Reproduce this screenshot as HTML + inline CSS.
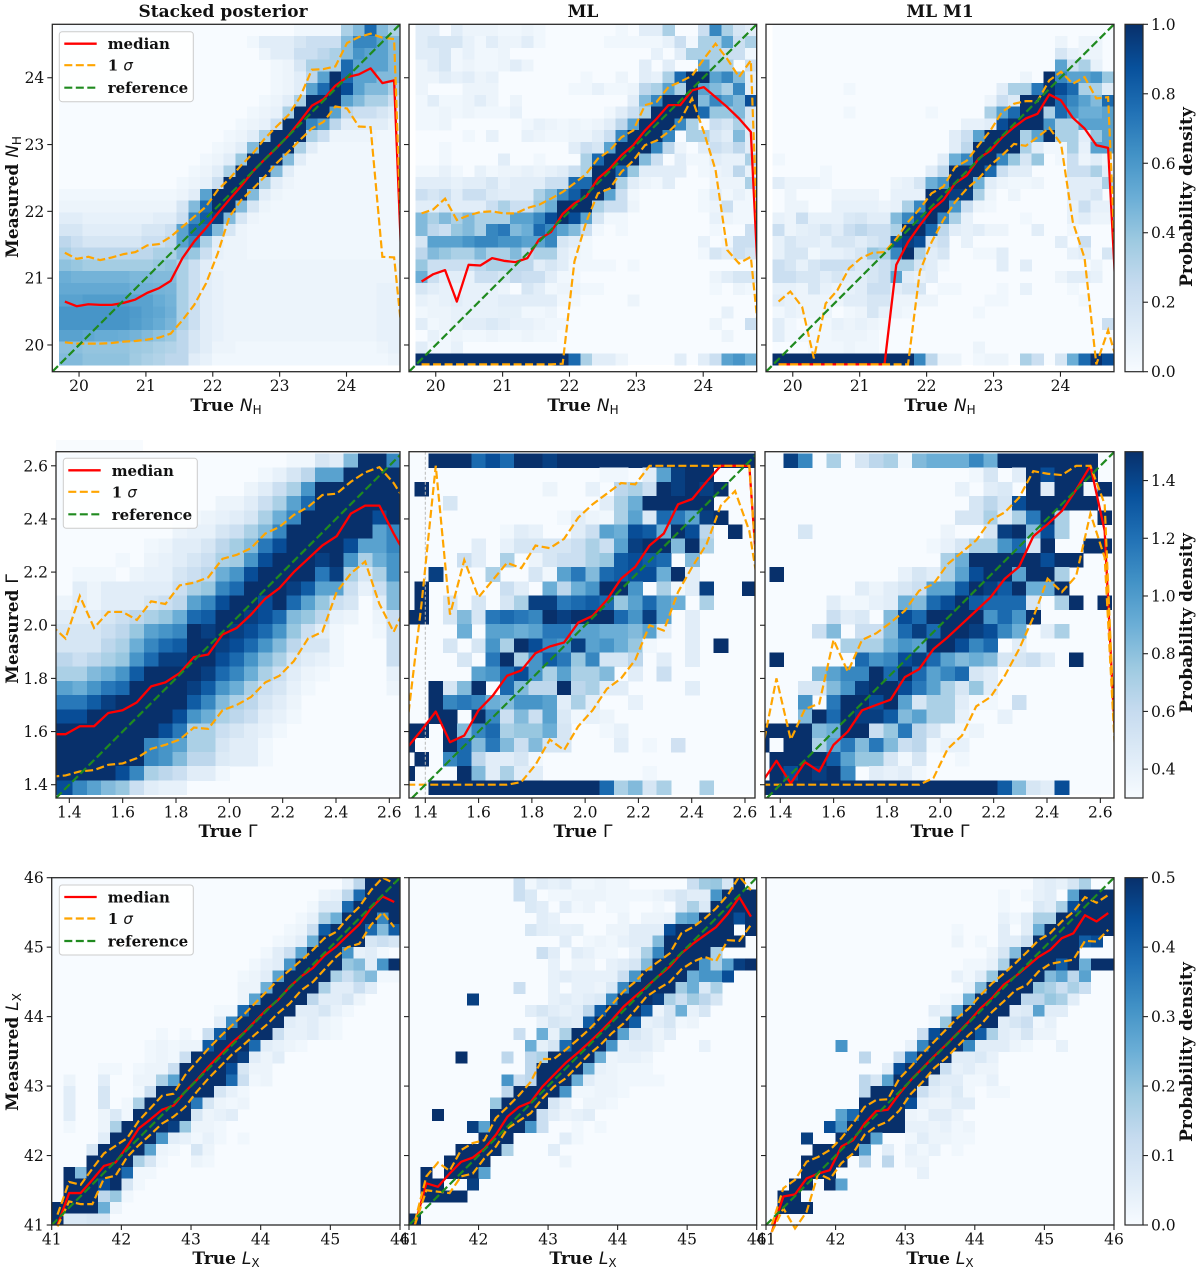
<!DOCTYPE html>
<html lang="en">
<head>
<meta charset="utf-8">
<title>Measured vs true parameters</title>
<style>
html,body{margin:0;padding:0;background:#fff;}
svg{display:block;filter:blur(.35px);}
text{font-family:"DejaVu Serif","Liberation Serif",serif;fill:#111;}
.tick{font-size:15.5px;}
.lab{font-size:17px;font-weight:bold;}
.ttl{font-size:17px;font-weight:bold;}
.leg{font-size:15px;font-weight:bold;}
.math{font-family:"DejaVu Sans","Liberation Sans",sans-serif;font-style:italic;font-weight:normal;}
.up{font-family:"DejaVu Sans","Liberation Sans",sans-serif;font-style:normal;font-weight:normal;}
.sub{font-family:"DejaVu Sans","Liberation Sans",sans-serif;font-style:normal;font-weight:normal;font-size:12px;}
</style>
</head>
<body>
<svg id="figure" xmlns="http://www.w3.org/2000/svg" width="1200" height="1269" viewBox="0 0 1200 1269">
<defs>
<linearGradient id="blues" x1="0" y1="1" x2="0" y2="0">
<stop offset="0" stop-color="#f7fbff"/><stop offset=".125" stop-color="#deebf7"/><stop offset=".25" stop-color="#c6dbef"/><stop offset=".375" stop-color="#9ecae1"/><stop offset=".5" stop-color="#6baed6"/><stop offset=".625" stop-color="#4292c6"/><stop offset=".75" stop-color="#2171b5"/><stop offset=".875" stop-color="#08519c"/><stop offset="1" stop-color="#08306b"/>
</linearGradient>
</defs>
<rect x="0" y="0" width="1200" height="1269" fill="#fff"/>
<rect x="56" y="440" width="87" height="12" fill="#f8fbfe"/>
<g id="plots"></g>
<text class="ttl" x="223" y="17" text-anchor="middle">Stacked posterior</text>
<text class="ttl" x="583" y="17" text-anchor="middle">ML</text>
<text class="ttl" x="940" y="17" text-anchor="middle">ML M1</text>
<text class="lab" transform="translate(18,197) rotate(-90)" text-anchor="middle">Measured <tspan class="math">N</tspan><tspan class="sub" dy="3">H</tspan></text>
<text class="lab" transform="translate(18,629) rotate(-90)" text-anchor="middle">Measured <tspan class="up">Γ</tspan></text>
<text class="lab" transform="translate(18,1052) rotate(-90)" text-anchor="middle">Measured <tspan class="math">L</tspan><tspan class="sub" dy="3">X</tspan></text>
<text class="lab" x="226" y="411" text-anchor="middle">True <tspan class="math">N</tspan><tspan class="sub" dy="3">H</tspan></text>
<text class="lab" x="583" y="411" text-anchor="middle">True <tspan class="math">N</tspan><tspan class="sub" dy="3">H</tspan></text>
<text class="lab" x="940" y="411" text-anchor="middle">True <tspan class="math">N</tspan><tspan class="sub" dy="3">H</tspan></text>
<text class="lab" x="228" y="837" text-anchor="middle">True <tspan class="up">Γ</tspan></text>
<text class="lab" x="583" y="837" text-anchor="middle">True <tspan class="up">Γ</tspan></text>
<text class="lab" x="940" y="837" text-anchor="middle">True <tspan class="up">Γ</tspan></text>
<text class="lab" x="226" y="1264" text-anchor="middle">True <tspan class="math">L</tspan><tspan class="sub" dy="3">X</tspan></text>
<text class="lab" x="583" y="1264" text-anchor="middle">True <tspan class="math">L</tspan><tspan class="sub" dy="3">X</tspan></text>
<text class="lab" x="940" y="1264" text-anchor="middle">True <tspan class="math">L</tspan><tspan class="sub" dy="3">X</tspan></text>
<text class="lab" transform="translate(1192,197) rotate(-90)" text-anchor="middle">Probability density</text>
<text class="lab" transform="translate(1192,623) rotate(-90)" text-anchor="middle">Probability density</text>
<text class="lab" transform="translate(1192,1052) rotate(-90)" text-anchor="middle">Probability density</text>
</svg>
<script>
/* tick labels */
const nhTicks=[20,21,22,23,24];
const gammaTicks=[1.4,1.6,1.8,2.0,2.2,2.4,2.6];
const lxTicks=[41,42,43,44,45,46];
const nhBarTicks=[0,0.2,0.4,0.6,0.8,1.0];
const gammaBarTicks=[0.4,0.6,0.8,1.0,1.2,1.4];
const lxBarTicks=[0,0.1,0.2,0.3,0.4,0.5];

/* heatmap cell levels, top row first; 0 = palest, 9 = darkest colour of the map; missing trailing cells are 0 */
const heatNhStacked=[
[0,0,0,0,0,0,0,0,0,0,0,0,0,0,0,0,0,0,0,0,.3,.3,.3,.3,3,4,7,4,3],
[0,0,0,0,0,0,0,0,0,0,0,0,0,0,0,0,.3,1,1,1,1.5,2,2,2,4,6,6,5,4],
[0,0,0,0,0,0,0,0,0,0,0,0,0,0,0,0,0,.5,1,1,2,2,2.5,3,4,5.5,5,5,4],
[0,0,0,0,0,0,0,0,0,0,0,0,0,0,0,0,0,0,.3,.5,1.5,3,3,3,7,5,5,5,4],
[0,0,0,0,0,0,0,0,0,0,0,0,0,0,0,0,0,0,.3,.5,1,2.5,5,9,7,5,5,4,4],
[0,0,0,0,0,0,0,0,0,0,0,0,0,0,0,0,0,0,.3,.5,1,5,7,9,8,5,4,4,3],
[0,0,0,0,0,0,0,0,0,0,0,0,0,0,0,0,0,.3,.5,1,3,9,9,9,5,4,3,3,2],
[0,0,0,0,0,0,0,0,0,0,0,0,0,0,0,0,.3,.5,.7,3,9,9,9,5,2.5,2,2,1.5,1],
[0,0,0,0,0,0,0,0,0,0,0,0,0,0,0,.3,.5,.7,2,9,9,6,5,2.5,1,1,1,1,.5],
[0,0,0,0,0,0,0,0,0,0,0,0,0,0,.3,.5,1,3,9,9,9,3,2,.5,.5,.5,.5,.3,.3],
[0,0,0,0,0,0,0,0,0,0,0,0,0,.3,.5,1,4,9,9,9,3,1,.3,.3,.3,.3,.3,.3,.3],
[0,0,0,0,0,0,0,0,0,0,0,0,.3,.5,1,3.5,9,9,9,4,1,.3,.3,.3,.3,.3,.3,.3,.3],
[0,0,0,0,0,0,0,0,0,0,0,.3,.5,1,3,9,9,9,4,1,.3,.3,.3,.3,.3,.3,.3,.3,.3],
[0,0,0,0,0,0,0,0,0,0,.3,.5,.7,2,9,9,9,3,1,.5,.3,.3,.3,.3,.3,.3,.3,.3,.3],
[.3,.3,.3,.3,.3,.3,.3,.3,.3,.3,.5,1,5,9,9,9,4,1,.5,.3,.3,.3,.3,.3,.3,.3,.3,.3,.3],
[.5,.5,.5,.5,.5,.5,.5,.5,.5,.5,1.5,4,7,9,9,4,1.5,.5,.3,.3,.3,.3,.3,.3,.3,.3,.3,.3,.3],
[1,1,.7,.7,.7,.7,.7,.7,1,1,2,6,7.5,8.5,4,1.5,.5,.3,.3,.3,.3,.3,.3,.3,.3,.3,.3,.3,.3],
[1.5,1.5,1,1,1,1,1,1.5,1.5,2,5,7,7,4,1.5,.5,.3,.3,.3,.3,.3,.3,.3,.3,.3,.3,.3,.3,.3],
[2.5,2,1.5,1.5,1.5,1.5,1.5,2,2,2.5,5,6,3,1,.5,.5,.3,.3,.3,.3,.3,.3,.3,.3,.3,.3,.3,.3,.3],
[3,2.5,2.5,2.5,2.5,2.5,2.5,2.5,3,3,4,3.5,2,.7,.5,.5,.3,.3,.3,.3,.3,.3,.3,.3,.3,.3,.3,.3,.3],
[3.7,3.5,3.2,3.2,3.2,3.2,3.2,3.2,3.5,3.7,3,2,1,.5,.5,.5,.5,.5,.5,.5,.5,.5,.5,.5,.5,.5,.5,.5,.5],
[4.5,4.3,4.3,4.3,4.3,4.3,4.1,4.1,4,4,3,2,1,.7,.5,.5,.5,.5,.5,.5,.5,.5,.5,.5,.5,.5,.5,.5,.5],
[4.7,4.7,4.7,4.7,4.7,4.7,4.4,4.4,4.3,4.2,3,2,1,.7,.5,.5,.5,.5,.5,.5,.5,.5,.5,.5,.5,.5,.5,.7,.7],
[5,5,5.2,5.2,5.2,5.2,5,5,4.6,4.3,3,2,1,.7,.5,.5,.5,.5,.5,.5,.5,.5,.5,.5,.5,.5,.5,.7,.7],
[5.5,5.5,5.5,5.5,5.5,5.5,5.3,5,4.8,4.4,3,2,1,.7,.5,.5,.5,.5,.5,.5,.5,.5,.5,.5,.5,.5,.5,.7,.7],
[5.5,5.5,5.5,5.5,5.5,5.5,5.2,4.9,4.6,4.2,3,2,1,.7,.5,.5,.5,.5,.5,.5,.5,.5,.5,.5,.5,.5,.5,.7,.7],
[5,5,4.8,4.6,4.6,4.5,4.3,4,3.7,3.4,2.5,1.5,1,.7,.5,.5,.5,.5,.5,.5,.5,.5,.5,.5,.5,.5,.5,.7,.7],
[3.8,3.8,3.6,3.6,3.6,3.6,3.4,3.3,3,2.8,2.5,1.5,1,.5,.5,.3,.3,.3,.3,.3,.3,.3,.3,.3,.3,.3,.3,.5,.7],
[4,4,3.7,3.7,3.7,3.7,3.3,3,2.8,2.5,2.5,1,.7,.3,.3,.3,.3,.3,.3,.3,.3,.3,.3,.3,.3,.3,.3,.3,.5]];
const heatNhMl=[
[1,1,0,1,.5,.5,.5,.3,.3,.5,.3,0,0,0,0,0,0,.3,0,1,1,3,0,0,2,6,3,1.5,1],
[1,1.5,1.5,1.5,.7,.3,1,.5,.5,1,.3,0,0,0,0,0,.3,.3,.3,.3,.3,.7,2,.3,3,3,5,2,3],
[1,1,1.5,.3,.7,.3,.3,.5,0,0,0,0,0,0,0,0,0,0,0,0,.7,0,1,3,3,3,2,2,.3],
[.5,1,1.5,.3,.5,.3,.3,.5,1,.5,0,0,0,0,0,0,0,0,0,1,0,1,0,0,5,3,3,0,2],
[.5,.5,1,.7,1,.5,.7,0,0,0,0,0,0,0,.3,0,0,.5,0,1,.7,3,7,9,9,5,6,4,1],
[.5,0,0,0,.5,.5,.5,0,0,0,0,0,0,.3,.3,.7,.3,.3,.5,2.5,3,5,3,9,5,4,3,6,1],
[.3,1,.3,.3,.5,1,.5,0,.5,0,0,0,0,0,0,0,0,0,1,4,6,9,9,9,4,6,5,4,8],
[.3,.3,.5,.3,.5,.3,.3,.3,.7,0,0,0,0,0,0,0,.3,1,2,3,9,9,9,9,7,3.5,3.5,4,1.5],
[.3,.3,.5,0,0,0,0,0,0,.3,.7,.5,.3,.5,.3,.5,1,2.5,5,9,9,9,6,3,0,2,1.5,3,1.5],
[0,0,0,0,.3,0,.7,0,0,.7,.5,.3,.3,.5,.5,1,2,6,9,9,9,6,0,3,3,1.5,1,4,1],
[0,0,.3,0,0,0,0,0,0,0,0,0,0,1,2,1.5,5,9,9,9,6,2.5,.5,0,1,2,1.5,2.5,1],
[0,0,.3,0,0,0,0,1,0,0,.3,0,0,0,3,7,9,9,9,4,2,0,1,.3,.3,1,.7,.7,3],
[.3,.3,.7,.3,0,.7,.3,.5,.5,.7,.5,.7,1,2,3,9,9,7,3.5,1,1,1,1,0,.3,.5,.7,2.5,.7],
[1,1,1,.7,1,1,1.5,.7,1,1,1,2,2,7,7,9,9,3,1,.5,.3,1,0,0,0,.5,.5,.5,3],
[2,1.5,2,1,2,2,1.2,1,1,1,3,4,6,7.5,9,9,5,2,.3,0,0,0,0,0,.3,1,.3,.7,.3],
[1,1,1.5,1,1,1,2,3,2,2,3.5,4.5,9,9,9,3,2,2,.5,0,0,0,0,0,.3,.5,2,.3,.3],
[4,3,4,3,4,3,3,3,5,5,6,8,9,8,5,1.5,.3,.3,0,0,0,0,0,0,0,.7,.5,.3,.3],
[4,2.5,2,3.5,4,3,6,6.5,4,4.5,7,6,5,4,2,.3,0,.3,0,0,0,0,0,0,0,.3,0,0,2],
[1.5,5,5,5,5.5,6,6,5.5,5.5,5,5,6,1.5,1,.3,0,0,0,0,0,0,0,0,0,.7,0,.3,2,2],
[2.5,4,3.5,3,3,4,3,3,4,2.5,3,3,1,.5,.3,0,0,0,0,0,0,0,0,0,.3,1.5,1,2,1.5],
[3.5,2,2,2,2,2.5,3,3,2.5,2.5,1,1.5,1,.3,.3,.3,.3,0,.3],
[4.5,2,1,1,.7,2,2,1.5,2.3,2,2,1,.3,.3,0,0,0,0,0,0,0,0,0,0,0,.5,1,1.5,1.5],
[1.5,1,.7,.5,.7,.7,.7,.5,0,1.5,1,.3,.5,.5,.3,.3,0,0,0,0,0,0,0,0,0,.3,0,.5,.3],
[.7,.5,.7,1,.7,.7,.7,1,1,1,1,1,.3,.3,0,0,0,0,.5],
[.3,.5,.5,.7,.7,.7,.7,.8,.8,.3,.3,.5,0,0,0,0,0,0,0,0,0,0,0,0,0,0,.7],
[1,.3,.5,.7,1,1,1.3,1,.7,.7,.5,.3,.3,0,0,0,0,0,0,0,0,0,0,0,0,.5,0,0,2],
[0,.7,.3,.5,.3,.3,.5,.3,.3,.5,.3,.3,0,0,0,0,0,0,0,0,0,0,0,0,0,0,.5],
[1,.3,.3,.7],
[9,9,9,9,9,9,9,9,9,9,9,9,9,7,3,1,1,.5,0,0,0,0,1,0,1,2,5,5.5,4.5]];
const heatNhM1=[
[],
[0,0,0,0,0,0,0,0,0,0,0,0,0,0,0,0,0,0,0,0,0,0,0,0,.5,0,.5,.5],
[0,0,0,0,0,0,0,0,0,0,0,0,0,0,0,0,0,0,0,0,0,0,0,0,1.5,.7,.5,.5],
[0,0,0,0,0,0,0,0,0,0,0,0,0,0,0,0,0,0,0,0,0,0,0,0,5,2,3,.7],
[0,0,0,0,0,0,0,0,0,0,0,0,0,0,0,0,0,0,0,0,0,.5,0,9,6,5,5,5.5,3.5],
[0,0,0,0,0,0,.3,0,0,0,0,0,0,0,0,0,0,0,0,1,3,3,6.5,9,8,7,3,3,1],
[0,0,0,0,0,0,0,0,0,0,0,0,0,0,0,0,0,0,.5,2,1.2,9,9,9,7,6,5,4,7],
[0,0,0,0,0,0,.3,0,0,0,0,0,0,.3,0,0,0,0,3,5,7,9,9,3,7,5.5,4.5,4.5,5],
[0,0,0,0,0,0,0,0,0,0,0,0,0,0,0,0,.7,.7,1,8,9,9,9,5.5,3,3,5,5,5],
[0,0,0,0,0,0,0,0,0,0,0,0,0,0,0,1,2,5,9,9,9,3,5,9,3,3,1,3.5,5],
[0,0,0,0,0,0,0,0,0,0,0,0,0,0,0,1,2.5,9,9,9,9,3,1,.3,.3,3,.7,5,5],
[.3,0,0,0,0,0,0,0,0,0,0,0,0,0,1,4.5,6,9,9,6,3.5,1.5,3.5,0,.3,2,.5,1,.5],
[0,0,0,0,.3,0,0,0,0,0,0,0,0,1,2.5,9,9,9,7,2,1,1,0,0,0,2,2,3,1],
[1,.5,.5,.5,.3,0,0,0,0,0,.5,.7,1.5,4.5,5.5,9,9,4.5,1,.5,.3,.3,.5,0,0,1,1,1,3],
[0,.5,0,0,0,.5,.5,.5,.5,0,.7,.7,.7,9,9,8.5,8.5,3,.5,0,.5,0,0,0,0,1,1,1.5,0],
[0,.5,.5,0,0,.7,.7,.7,.7,.5,.7,3,6,9,9,5.5,2,.5,.3,0,0,0,0,0,0,.7,2,.7,.7],
[.7,.5,2,.7,.7,.7,1.3,1.5,1,1,4,6,8,9,6,3,.7,0,0,0,0,.3,0,0,0,.7,1,.5,.5],
[2,.5,.8,1,1.5,1,2,2.5,2,2,3,9,9,7,2.5,1,.7,1,.5,.5,0,0,1,0,0,.3],
[.7,1.5,1,1,.7,1.5,1.5,1,1.5,2,8,8.5,8,1.5,2,0,.7,0,0,0,0,0,0,0,1,0,2],
[.7,1.5,1.5,.3,.7,.7,1,1.5,3.5,3,6,9,3,1,1.5,0,0,.3,.3,1,0,0,0,0,0,.7,1,0,1.5],
[2,1.5,.7,1.5,2,2,2,1.3,1.5,2,3,3,1.5,1,.3,0,0,0,0,1,0,1,0,0,0,0,0,.5],
[2,2,1.5,1.5,1,1.5,1,1,1.5,2,5,1,.7,1,0,0,0,0,0,0,0,0,0,0,.5,1,1,.7],
[.7,.7,.5,1.5,.7,.5,.7,1,2,2,1,1.5,1.5,0,.3,.3,0,0,0,.3,0,.7,0,0,0,.3],
[1,.7,.5,.5,.5,.5,1,1,1.5,1.5,.5,.5,.5,.5,0,0,0,0,.3,.3,0,0,0,0,0,0,.3],
[.3,.7,.5,.5,.5,0,.3,.5,1.5,.7,.5,.3,0,0,0,0,0,.3],
[1,.3,0,.3,.3,.7,.5,.7,.5,.3,0,0,0,0,0,0,0,0,0,0,0,0,0,0,0,0,0,0,2],
[1,.3,.3,.3,.3,.5,.5,.5,.3],
[0,0,0,.3,.3,.3,.5,.3,.3,0,0,0,0,0,0,0,0,.5],
[9,9,9,9,9,9,9,9,9,9,9,9,6,2.5,.5,.5,0,.3,.5,.5,0,3,2,0,1.5,4.5,7,9,8]];
const heatGammaStacked=[
[0,0,0,0,0,0,0,0,0,0,0,0,0,0,0,0,0,.3,.3,1.5,1,4,9,9,6],
[0,0,0,0,0,0,0,0,0,0,0,0,0,0,0,.3,.7,1.5,2.5,5,5,9,9,9,9],
[0,0,0,0,0,0,0,0,0,0,0,0,0,0,.5,1,2,3,5.5,9,9,9,9,9,9],
[0,0,0,0,0,0,0,0,0,0,0,0,.5,.5,1,2,3,5,7,9,9,9,9,9,9],
[0,0,0,0,0,0,0,0,0,.3,.3,.5,.7,1,1.5,3,4.5,6,9,9,9,9,9,8,9],
[0,0,0,0,0,0,0,0,0,.5,.7,.7,1.5,2,3,4,6,9,9,9,9,9,9,5,6],
[0,0,0,0,0,0,0,.3,.5,1,1,1.5,2.5,3.2,4,6.5,8,9,9,9,9,8,5,5,6],
[0,0,0,0,0,.3,0,.5,.7,1,1.5,2,3,3.3,5.5,8,9,9,9,8.5,9,5.5,3,4.5,5.5],
[0,0,.3,.3,.3,0,.5,.7,.7,1.5,2,2.5,4.5,5.5,8,9,9,9,9,6.5,8.5,3,1.5,3,5.5],
[0,0,1,.5,1,1,1,1,1,2,3,3.5,6,7,9,9,9,8.5,7.5,5,5,2,.7,2,4],
[.5,.5,1,.5,1,1,1,1.5,2,2.5,5,6,8,9,9,8,9,7,5,3.5,2,1.5,0,1,4],
[1,1,1,1,1.5,2,2.5,3,3.5,4.5,7,7.5,9,9,8.5,8,7,4,3.5,2.5,.7,.5,0,.5,2],
[1.5,1.5,1.5,1.5,2,2.5,3.5,5,5.5,6,9,8.5,9,8.5,8,7,5.5,3.5,2,1,.3,0,0,.3,2],
[1.5,1.5,1.5,1.5,2.5,3,4.5,6,7,7.5,9,9,8.5,8,7,5.5,4,2.5,1.5,1.5,.3,0,0,0,2],
[2.5,2.5,2,2.5,3,3.5,5.5,7,8.5,8.5,9,9,8,7,5.5,4,3,1.5,1,.7,.3,0,0,0,2],
[3,3,3,4,4.5,5.5,7.5,9,9,9,9,8.5,7,6,4.5,3,2,1,.5,.3,0,0,0,0,.7],
[5,5,4.5,5.5,6.5,7,9,9,9,9,8.5,7.5,5.5,4.5,3,2,1.5,.7,.3,0,0,0,0,0,.5],
[6.5,6.5,6.5,7.5,8.5,9,9,9,9,9,7.5,6,4,3,2.5,1.5,1,.5],
[8,8,8,9,9,9,9,9,9,8,5.5,4.5,3,2.5,2,1,.7,.3],
[9,9,9,9,9,9,9,9,8,6.5,3,3,2,1.5,1,.7,.3],
[9,9,9,9,9,9,9,6,5.5,5,3,3,1.5,1,1,.3],
[9,9,9,9,9,9,9,6,5.5,4,2.5,2.5,1.2,1,1,.3],
[9,9,9,9,9,8,6,3,2.5,2,1,1,.3],
[8,8,6,5,4,3.5,2,1,.7,.7]];
const heatGammaMl=[
[0,0,9,9,9,7,8,7,9,9,8.5,9,9,9,9,9,9,9,9,9,9,9,9,9,9],
[0,0,0,0,0,0,0,0,0,0,0,0,0,0,.3,.3,0,1,5,8.5,9,9],
[0,9,0,0,0,0,0,0,0,0,.5,0,0,.7,0,2.5,3,2,9,8.5,9,8.5,9],
[0,0,0,1.5,0,0,0,0,0,0,0,0,0,0,1,3,4.5,9,9,9,9,9],
[0,0,0,0,0,0,0,0,0,0,0,.3,1,.5,.3,3,5,1.3,7,6.5,5,8.5,9],
[0,0,0,0,0,0,0,.3,1,.7,0,0,1,2,5,4.5,8,7.5,4.5,9,8,2.5,0,9],
[0,0,0,0,0,1,0,.7,1.5,1.5,1.5,1.5,2,3,2,5,8.5,9,9,4,9,3],
[0,0,0,0,2,1,0,3,0,.5,1.5,2,2,3,3.5,7.5,8,7.5,7,0,4],
[0,0,8.5,0,0,0,3,0,0,1.5,.3,5,6.5,4,7,7.5,8,8,4.5,9,1],
[0,9,0,0,0,0,0,2,1,0,4.5,2.5,4.5,5.5,9,9,5.5,0,3,.3,1,8.5,0,0,9],
[0,9,0,1.5,0,1.5,0,1.5,3,8.5,8.5,6.5,7,7.5,7,3.5,5,7,5,4.5,0,3],
[9,9,0,1.5,4,1.5,6.5,7,6.5,6,9,8.5,9,9,9,7,5.5,8.5,5,0,1],
[0,0,0,0,4.5,0,5,5,4.5,5,6.5,6.5,5,5,4.5,4.5,4,5,1,0,1],
[0,0,0,1.5,0,1.5,5.5,3,9,8,6,5.5,8.5,5,5.5,4.5,3.5,.3,0,0,1,0,9],
[0,0,0,0,1.5,0,6.5,9,3,5.5,7.5,6.5,3.5,6,1.5,1.5,2.5,0,1,0,1],
[0,0,0,0,0,5,5.5,7,8,5.5,3,5,3,3,4,0,1,0,2],
[0,0,9,1.5,4,9,0,7,4,2.5,2.5,9,2.5,3,1,1,0,0,0,0,1],
[0,0,9,6,6.5,6,4.5,4,5.5,5.5,5,1,3,1,0,0,.7],
[0,0,9,9,0,9,6,2,4,2,5,1.3,.3,.7,.5],
[9,9,0,9,4,6,7,3,3.5,3.5,4.5,1.5,0,0,.3,.7],
[9,0,0,9,7,4,6.5,4,2,4,1.5,1.5,0,0,0,1,0,.3,0,1.8],
[0,9,0,6,7,2.5,1,1,1.5,.3],
[9,0,0,0,9,4,1,3,1,1,0,0,0,0,0,0,0,.3],
[0,0,9,9,9,9,9,9,9,9,9,9,9,9,7,3,4,1.5,3,0,0,3]];
const heatGammaM1=[
[0,0,8.5,6,0,3,0,1.5,2.5,3,.3,4,4.5,4.5,4.5,6,4.5,9,9,9,9,9,9,9],
[0,0,0,0,0,0,0,0,0,0,0,0,0,0,0,.3,1.5,0,1,9,8,9,9,9],
[0,0,0,0,0,0,0,0,0,0,0,0,0,0,.7,0,1,1.3,0,9,1,9,9,.3,9],
[0,0,0,0,0,0,0,0,0,0,0,0,0,0,0,1.5,2.5,1.5,8,9,9,9,9,9],
[0,0,0,0,0,0,0,0,0,0,0,0,0,0,1.5,1.5,3,1,3,6.5,9,3,0,0,9],
[0,0,0,1.5,0,0,0,0,0,0,0,0,0,.5,0,0,1.5,8.5,9,4,8,3],
[0,0,0,0,0,0,0,0,0,0,0,0,.3,.7,1.5,3,3,5.5,7,1.5,9,0,0,9,9],
[0,0,0,0,0,0,0,0,0,0,0,0,0,3,4.5,9,9,9,9,9,8,9,9],
[0,9,0,0,0,0,0,0,0,0,.7,1.5,1,3,5,8,9,9,5,9,9,3],
[0,0,0,0,0,0,0,1,.5,1,1.5,2,5,5,7.5,9,8.5,7.5,9,4.5,4.5,9],
[0,0,0,0,0,1,.3,.3,.7,1,4.5,4,7,8,9,7.5,7,7,7,1.5,0,3,9,0,9],
[0,0,0,0,0,2,1,1.3,0,4,8,7,9,9,9,9,5.5,7,5.5,9],
[0,0,0,0,2,4,0,2,2,4,7,8.5,7,9,9,8.5,8,6,4.5,0,1,3],
[0,0,0,0,0,0,3,3,3,4.5,5.5,5,9,9,8,6,7,0,1],
[0,9,0,0,0,0,0,7,5.5,6,8,8.5,7,5,4,4.5,4,1.5,1.5,2,1,0,9],
[0,0,0,0,4,5,6,6,9,7,9,7,5,6,7,1.5,1],
[0,0,0,1.5,1.5,4,5.5,8.5,9,9,8,6.5,5,3,1.5,3.5,1],
[0,0,0,5.5,0,6.5,9,9,8,9,5,1.5,3,3,1,.3,.3,0,2],
[0,0,0,4,9,7,9,8.5,8.5,7.5,4,5,3,3,.7,0,0,.7],
[9,9,9,9,4,4.5,9,9,2,3.5,6.5,2.5,1.5,.3,.3,.5],
[9,0,9,9,3,5,6.5,4,6.5,4,2,2.5,.3,.7,.7],
[0,9,9,9,9,7.5,5,3.5,3.5,1.5,.3,1.5,0,0,.3],
[0,9,8,9,8.5,9,6,0,1,.7,1,.3],
[9,9,9,9,9,9,9,9,9,9,9,9,9,9,9,9,9,7.5,4,1.5,1,8]];
const heatLxStacked=[
[0,0,0,0,0,0,0,0,0,0,0,0,0,0,0,0,0,0,0,0,0,0,0,0,0,.7,2.5,9,9,9],
[0,0,0,0,0,0,0,0,0,0,0,0,0,0,0,0,0,0,0,0,0,0,0,.5,.7,2.5,7,9,9,9],
[0,0,0,0,0,0,0,0,0,0,0,0,0,0,0,0,0,0,0,0,0,0,.3,1.3,1.3,7,9,9,9,9],
[0,0,0,0,0,0,0,0,0,0,0,0,0,0,0,0,0,0,0,0,0,.3,.7,3,4.5,9,9,9,6,9],
[0,0,0,0,0,0,0,0,0,0,0,0,0,0,0,0,0,0,0,0,.3,.5,2,7.5,9,9,9,7,4,7.5],
[0,0,0,0,0,0,0,0,0,0,0,0,0,0,0,0,0,0,0,.3,.5,1,4.5,9,9,9,9,1.5,2,1.5],
[0,0,0,0,0,0,0,0,0,0,0,0,0,0,0,0,0,0,.3,1,2,5,9,9,9,5.5,.7,1,.3],
[0,0,0,0,0,0,0,0,0,0,0,0,0,0,0,0,0,.3,.7,1,5.5,9,9,9,9,3.5,4,1,5.5,9],
[0,0,0,0,0,0,0,0,0,0,0,0,0,0,0,0,.3,.5,1,5,9,9,9,9,3,2,3,4,.3,.3],
[0,0,0,0,0,0,0,0,0,0,0,0,0,0,0,0,.5,.5,4.5,9,9,9,9,3,1,1,2,1],
[0,0,0,0,0,0,0,0,0,0,0,0,0,0,0,0,.5,5,9,9,9,9,2.5,1,1,1.5,.5],
[0,0,0,0,0,0,0,0,0,0,0,0,0,0,.3,.3,7,9,9,9,9,1,1,1.5,.7,.3],
[0,0,0,0,0,0,0,0,0,0,0,0,0,0,1,6,9,9,9,9,1,.7,1,.5,.3],
[0,0,0,0,0,0,0,0,0,.3,0,.3,0,2,7.5,9,9,9,9,2,.7,.7,1,.5,.3],
[0,0,0,0,0,0,0,0,.3,.5,.3,.5,.5,7.5,9,9,9,7,1,.7,.5,.3],
[0,0,0,0,0,0,0,0,.3,.5,.3,2,9,9,9,9,8.5,1,.5,1],
[0,0,0,0,.3,.3,0,.3,.5,.5,2,9,9,9,9,8,1.5,.5,.5],
[0,.5,0,0,1,0,0,.5,.5,3,5,9,9,9,9,7,2,.3,.5],
[0,1,0,0,1.5,0,0,.3,2,9,9,9,9,9,1.5,.7,.3],
[0,1,0,0,1.5,0,.3,3,9,9,9,9,6.5,1.5,.5,.3,.5],
[0,1,0,0,.5,1.3,.3,9,9,9,9,9,1.5,.5,.7,1],
[0,.3,0,0,.5,3,9,9,9,9,8.5,3.5,.5,.5,.3],
[0,0,0,0,1,9,9,9,9,5.5,1,.7,.3,.7,.3,0,.3],
[0,0,0,1.5,9,9,9,9,5,.5,.3,0,1.5,.5],
[0,0,0,9,9,9,9,3,1.5,.3,0,0,.5,.3],
[0,9,4,9,9,9,7,.3,.3],
[0,9,9,9,8,9,1.5,.3],
[0,9,9,9,2.5,3.5,.3],
[9,9,9,9,4.5,.5],
[9,1.3,1.3,1.5,1.5]];
const heatLxMl=[
[0,0,0,0,0,0,0,0,0,2,.3,1,.7,1,.3,.3,.5,.3,.3,0,0,0,0,0,2,3.3,3.5,1.5,9,.3],
[0,0,0,0,0,0,0,0,0,2,1.3,0,.3,.3,.5,.5,.5,.3,.3,.3,.3,.5,1,1.5,1,1,5.5,9,9,9],
[0,0,0,0,0,0,0,0,0,0,1.3,1,0,1,.3,.5,0,.3,.3,0,0,.3,0,1.5,3,1.3,9,9,9,9],
[0,0,0,0,0,0,0,0,0,0,0,1,.7,0,0,0,0,0,.5,0,.5,.5,.7,4.5,5,9,9,9,8,9],
[0,0,0,0,0,0,0,0,0,0,1.5,1,.8,.7,.8,0,0,.5,.5,1,1,1,8,9,9,9,9,9,0,9],
[0,0,0,0,0,0,0,0,0,0,0,0,0,1,0,.3,.5,.3,.7,1,1,4,9,9,9,9,9,9,9],
[0,0,0,0,0,0,0,0,0,0,0,2,1,0,1,.7,.3,.3,0,.7,3,6,9,9,9,9,3],
[0,0,0,0,0,0,0,0,0,0,0,0,.7,0,.5,.5,0,.7,1,1.5,4,9,9,9,9,5.5,3,5,8.5,9],
[0,0,0,0,0,0,0,0,0,0,0,0,.7,1,.7,.7,.7,.7,2,5.5,9,9,9,9,4.5,5.5,5.5,8],
[0,0,0,0,0,0,0,0,0,2,0,0,.7,0,.7,.7,.5,1.3,6,9,9,9,9,3.3,4.5,1.3,3],
[0,0,0,0,0,8.5,0,0,0,0,0,0,.7,1,.7,1,1.3,6,9,9,9,8.5,3,2,3.3,2.5,1.5],
[0,0,0,0,0,0,0,0,0,0,1,1.5,1,.7,1,2.5,7.5,9,9,9,7.5,.5,1.5,4.5,.7,1.5],
[0,0,0,0,0,0,0,0,0,0,0,.7,1.5,1.2,1,7.5,9,9,9,7.5,.7,1,1.5,.3,.5],
[0,0,0,0,0,0,0,0,0,2,0,4.5,.7,3,9,9,9,9,5,1.5,1,.5,1],
[0,0,0,0,0,0,0,0,0,0,4.5,.8,1.5,7,9,9,9,5.5,.7,1,1,.5,0,0,0,.7],
[0,0,0,0,9,0,0,0,2.5,0,2.5,3,9,9,9,9,4.5,.5,.7,.7,.5],
[0,0,0,0,0,0,0,0,0,0,2.5,9,9,9,9,4.5,.7,.5,.3,.3,.3],
[0,0,0,0,0,0,0,0,5.5,2,2.5,9,9,9,4.5,1,.5,.5,.3,.3,.3,.3],
[0,0,0,0,0,0,0,0,2.5,9,9,9,9,5.5,.3,.3,.5,.5,.3],
[0,0,0,0,0,0,0,3.5,9,9,9,9,1.5,.7,0,.5,.5,.3],
[0,0,9,0,0,0,0,9,9,9,9,2,1,.5,.7,1],
[0,0,0,0,0,8.5,5,9,9,9,5.5,2,0,0,.3,0,.3],
[0,0,0,0,0,0,9,9,9,0,0,0,0,1,.3],
[0,0,0,0,9,9,9,9,3,0,0,0,1],
[0,0,0,9,9,9,9,0,0,0,0,0,0,.5],
[0,9,0,9,9,9,5],
[0,9,9,0,0,8.5],
[0,9,9,9,9],
[],
[9]];
const heatLxM1=[
[0,0,0,0,0,0,0,0,0,0,0,0,0,0,0,0,0,0,0,0,0,0,0,.7,1,.7,1.5,3],
[0,0,0,0,0,0,0,0,0,0,0,0,0,0,0,0,0,0,0,0,.3,0,.3,.7,1,0,5,9,9,9],
[0,0,0,0,0,0,0,0,0,0,0,0,0,0,0,0,0,0,0,0,.3,0,0,1.3,1,3,8,9,9,9],
[0,0,0,0,0,0,0,0,0,0,0,0,0,0,0,0,0,0,0,0,.7,.3,1,3,3,9,9,9,9,9],
[0,0,0,0,0,0,0,0,0,0,0,0,0,0,0,0,.3,0,0,0,1,0,1,4.5,9,9,9,9,9,9],
[0,0,0,0,0,0,0,0,0,0,0,0,0,0,0,0,.5,0,.3,0,1,1,2,9,9,9,9,7.5,8,0],
[0,0,0,0,0,0,0,0,0,0,0,0,0,0,0,0,0,0,0,.5,1.5,4,9,9,9,9,9],
[0,0,0,0,0,0,0,0,0,0,0,0,0,0,0,0,0,.3,.3,.7,3,9,9,9,9,7.5,9,4.5,9,9],
[0,0,0,0,0,0,0,0,0,0,0,0,0,0,0,0,.7,.3,1,3.5,9,9,9,9,4,5,2.5,5],
[0,0,0,0,0,0,0,0,0,0,0,0,0,0,0,0,0,.7,4,9,9,9,9,3.5,3,2,3,2],
[0,0,0,0,0,0,0,0,0,0,0,0,0,0,0,.3,.5,4.5,9,9,9,9,2.5,2.5,3.5,3,1],
[0,0,0,0,0,0,0,0,0,0,0,0,0,0,1,.7,5,9,9,9,9,1,1.2,5,1,1],
[0,0,0,0,0,0,0,0,0,0,0,0,0,0,.3,3.5,9,9,9,9,1,1.5,2,.3,.7],
[0,0,0,0,0,0,0,0,0,0,0,0,0,2,8,9,9,9,7.5,3,1,.7,1.5,.5,.5],
[0,0,0,0,0,0,5.5,0,0,0,0,0,.7,6,9,9,9,6,1,1,1,.5,.3,0,0,.7],
[0,0,0,0,0,0,0,0,2.5,0,0,2,6.5,9,9,9,1,1,1.3,.7],
[0,0,0,0,0,0,0,0,0,0,1,8,9,9,9,2,.7,1,.5,.5],
[0,0,0,0,0,0,0,0,2.5,1.5,5,9,9,9,1.5,1,1,.3,.3,.7],
[0,0,0,0,0,0,0,0,2.5,9,9,9,9,2,1,.7,1.2,.3,0,.3,.3],
[0,0,0,0,0,0,0,0,9,9,9,9,8,.7,.5,.5,1,1],
[0,0,0,0,0,0,5,7,9,9,9,9,.5,.3,1,1,.5],
[0,0,0,0,0,8,5.5,9,9,9,9,9,.7,.7,.5,.7,.3,.5],
[0,0,0,8.5,0,0,9,9,9,5,0,0,.3,1,.5,.5,.3,.3],
[0,0,0,0,9,9,9,9,5,0,1,0,.7,.3,.7,0,.3],
[0,0,0,9,9,9,9,0,2.5,0,2.5,0,.5,.5],
[0,0,0,9,9,9,0,0,0,0,0,0,0,.7],
[0,0,9,9,0,9,5],
[0,9,9],
[0,9,9,9],
[]];

/* series: median, +1 sigma, -1 sigma at successive true-value bins */
const medNhStacked=[20.65,20.58,20.61,20.60,20.60,20.63,20.68,20.78,20.85,20.96,21.30,21.55,21.75,21.97,22.18,22.38,22.60,22.78,22.95,23.13,23.35,23.58,23.68,23.88,24.01,24.05,24.14,23.92,23.96,19.6];
const hiNhStacked=[21.38,21.29,21.32,21.27,21.31,21.36,21.39,21.49,21.51,21.62,21.77,21.92,22.07,22.32,22.49,22.69,22.87,23.09,23.27,23.44,23.71,24.12,24.13,24.17,24.52,24.61,24.66,24.6,24.58,19.6];
const loNhStacked=[20.04,20.02,20.02,20.02,20.03,20.05,20.06,20.08,20.11,20.17,20.37,20.6,20.92,21.37,21.92,22.17,22.34,22.52,22.72,22.89,23.07,23.24,23.34,23.57,23.54,23.27,23.26,21.32,21.31,19.6];
const medNhMl=[20.95,21.06,21.12,20.65,21.2,21.19,21.3,21.26,21.24,21.3,21.58,21.69,21.96,22.12,22.22,22.49,22.64,22.84,22.99,23.21,23.39,23.59,23.59,23.81,23.86,23.71,23.56,23.39,23.19,19.6];
const hiNhMl=[21.97,22.03,22.19,21.87,21.94,21.99,22.0,21.97,21.97,22.05,22.1,22.19,22.29,22.42,22.56,22.79,22.91,23.11,23.21,23.59,23.64,23.86,23.94,24.03,24.28,24.51,24.28,24.01,24.26,19.6];
const loNhMl=[19.71,19.71,19.71,19.71,19.71,19.71,19.71,19.71,19.71,19.71,19.71,19.71,19.72,21.25,21.84,22.27,22.34,22.59,22.76,22.99,23.06,23.19,23.36,23.69,23.19,22.62,21.42,21.22,21.32,19.6];
const medNhM1=[19.71,19.71,19.71,19.71,19.71,19.71,19.71,19.71,19.71,19.71,21.2,21.54,21.79,22.02,22.17,22.42,22.54,22.79,22.91,23.11,23.26,23.39,23.46,23.75,23.66,23.4,23.24,22.99,22.95,19.6];
const hiNhM1=[20.65,20.8,20.57,19.8,20.62,20.82,21.15,21.3,21.38,21.39,21.59,21.84,22.04,22.27,22.37,22.66,22.76,22.99,23.21,23.49,23.61,23.65,23.65,23.96,24.09,23.91,24.01,23.69,23.71,19.6];
const loNhM1=[19.71,19.71,19.71,19.71,19.71,19.71,19.71,19.71,19.71,19.71,19.71,19.71,21.1,21.54,21.87,22.14,22.34,22.49,22.69,22.84,23.01,22.98,23.11,23.25,23.01,21.84,21.3,19.71,20.22,19.6];
const medGammaStacked=[1.59,1.59,1.62,1.62,1.67,1.68,1.71,1.77,1.785,1.82,1.88,1.89,1.965,1.99,2.04,2.1,2.14,2.2,2.25,2.3,2.335,2.42,2.45,2.45,2.345,2.25];
const hiGammaStacked=[2.0,1.95,2.11,1.99,2.05,2.05,2.02,2.09,2.08,2.15,2.16,2.18,2.25,2.265,2.29,2.345,2.37,2.415,2.445,2.49,2.495,2.54,2.575,2.595,2.535,2.45];
const loGammaStacked=[1.43,1.435,1.45,1.455,1.475,1.48,1.5,1.535,1.55,1.57,1.615,1.61,1.68,1.7,1.73,1.785,1.81,1.865,1.95,1.975,2.125,2.195,2.24,2.08,1.975,2.09];
const medGammaMl=[1.54,1.605,1.675,1.56,1.585,1.68,1.735,1.81,1.83,1.895,1.92,1.935,2.01,2.035,2.095,2.175,2.22,2.3,2.345,2.455,2.475,2.54,2.6,2.6,2.6,1.85];
const hiGammaMl=[1.63,2.08,2.6,2.04,2.245,2.105,2.17,2.235,2.215,2.3,2.29,2.325,2.405,2.455,2.495,2.535,2.53,2.6,2.6,2.6,2.6,2.6,2.6,2.6,2.6,1.85];
const loGammaMl=[1.4,1.4,1.4,1.4,1.4,1.4,1.4,1.4,1.41,1.475,1.57,1.53,1.62,1.68,1.76,1.8,1.87,2.0,1.98,2.125,2.22,2.305,2.45,2.505,2.355,2.02];
const medGammaM1=[1.41,1.49,1.405,1.485,1.45,1.55,1.6,1.68,1.7,1.72,1.805,1.835,1.91,1.955,2.005,2.055,2.105,2.175,2.22,2.335,2.38,2.43,2.51,2.6,2.355,1.27];
const hiGammaM1=[1.53,1.8,1.57,1.685,1.705,1.945,1.825,1.945,1.97,2.01,2.055,2.13,2.155,2.23,2.275,2.32,2.395,2.425,2.48,2.58,2.57,2.565,2.6,2.6,2.455,1.2];
const loGammaM1=[1.4,1.4,1.4,1.4,1.4,1.4,1.4,1.4,1.4,1.4,1.4,1.4,1.425,1.535,1.585,1.695,1.73,1.81,1.91,2.03,2.175,2.125,2.185,2.42,2.255,1.25];
const medLxStacked=[41.0,41.46,41.46,41.65,41.85,41.9,42.13,42.39,42.52,42.66,42.72,42.92,43.09,43.28,43.45,43.62,43.76,43.93,44.1,44.24,44.43,44.58,44.7,44.88,45.01,45.17,45.33,45.56,45.73,45.65];
const hiLxStacked=[41.15,41.62,41.58,41.81,42.03,42.14,42.25,42.5,42.68,42.86,42.89,43.16,43.35,43.54,43.71,43.87,44.02,44.19,44.36,44.53,44.67,44.81,44.96,45.13,45.22,45.42,45.58,45.82,46.0,45.92];
const loLxStacked=[40.98,41.34,41.3,41.3,41.67,41.71,41.98,42.15,42.3,42.46,42.56,42.7,42.92,43.11,43.28,43.45,43.59,43.74,43.88,44.05,44.19,44.38,44.5,44.68,44.86,45.0,45.05,45.32,45.5,45.29];
const medLxMl=[41.0,41.6,41.55,41.74,41.91,41.97,42.1,42.3,42.56,42.7,42.77,42.99,43.16,43.33,43.47,43.62,43.78,43.95,44.14,44.29,44.43,44.58,44.72,44.91,45.05,45.17,45.29,45.48,45.72,45.44];
const hiLxMl=[41.05,41.7,41.9,41.78,42.08,42.18,42.22,42.54,42.7,42.87,43.06,43.39,43.39,43.52,43.66,43.81,43.98,44.17,44.36,44.5,44.67,44.79,44.91,45.2,45.29,45.41,45.56,45.75,46.02,45.82];
const loLxMl=[41.0,41.5,41.48,41.46,41.7,41.74,41.96,42.13,42.39,42.5,42.61,42.82,42.99,43.11,43.28,43.45,43.59,43.76,43.9,44.09,44.29,44.4,44.5,44.68,44.79,44.86,44.8,45.1,45.09,45.32];
const medLxM1=[40.9,41.41,41.44,41.67,41.74,41.79,42.13,42.22,42.46,42.64,42.66,42.89,43.09,43.26,43.43,43.59,43.76,43.93,44.12,44.27,44.46,44.58,44.72,44.86,44.96,45.13,45.2,45.46,45.37,45.49];
const hiLxM1=[41.0,41.53,41.65,41.91,41.98,42.08,42.25,42.46,42.7,42.8,42.81,43.11,43.28,43.47,43.64,43.81,43.98,44.12,44.31,44.48,44.62,44.77,44.93,45.1,45.2,45.37,45.51,45.72,45.64,45.75];
const loLxM1=[40.9,41.24,40.95,41.19,41.74,41.66,41.89,42.03,42.3,42.42,42.49,42.65,42.89,43.06,43.26,43.4,43.57,43.74,43.88,44.07,44.22,44.38,44.46,44.65,44.76,44.79,44.82,45.09,45.08,45.25];

const NS='http://www.w3.org/2000/svg';
const root=document.getElementById('plots');
const stops=[[247,251,255],[222,235,247],[198,219,239],[158,202,225],[107,174,214],[66,146,198],[33,113,181],[8,81,156],[8,48,107]];
function blues(level){
  const t=Math.max(0,Math.min(1,level/9))*8;
  const i=Math.min(7,Math.floor(t));
  const f=t-i;
  const c=stops[i].map((v,k)=>Math.round(v+(stops[i+1][k]-v)*f));
  return 'rgb('+c.join(',')+')';
}
function make(tag,attrs,parent){
  const el=document.createElementNS(NS,tag);
  for(const k in attrs){el.setAttribute(k,attrs[k]);}
  (parent||root).appendChild(el);
  return el;
}
const rows=[
 {key:'nh',top:24.3,bottom:371.7,ylim:[19.6,24.8],binX:19.7,binW:5.1/29,binY:19.7,binH:5.1/29,nRows:29,ticks:nhTicks,fmt:0,clipLines:true,legendTop:31.7,legendLeft:[59.3],bar:{ticks:nhBarTicks,min:0,max:1,fmt:1}},
 {key:'gamma',top:451.7,bottom:798,ylim:[1.35,2.653],binX:1.3055,binW:.0535,binY:1.3625,binH:.0535,nRows:24,ticks:gammaTicks,fmt:1,clipLines:true,legendTop:458.3,legendLeft:[63.3],bar:{ticks:gammaBarTicks,min:.3,max:1.5,fmt:1}},
 {key:'lx',top:877.7,bottom:1225,ylim:[41,46],binX:41,binW:5/30,binY:41,binH:5/30,nRows:30,ticks:lxTicks,fmt:0,clipLines:false,legendTop:885,legendLeft:[59.3],bar:{ticks:lxBarTicks,min:0,max:.5,fmt:1}}
];
const panels=[
 {name:'nh-stacked',row:0,col:0,left:52.3,right:400,xlim:[19.6,24.8],heat:heatNhStacked,med:medNhStacked,hi:hiNhStacked,lo:loNhStacked},
 {name:'nh-ml',row:0,col:1,left:409,right:756.7,xlim:[19.6,24.8],heat:heatNhMl,med:medNhMl,hi:hiNhMl,lo:loNhMl},
 {name:'nh-ml-m1',row:0,col:2,left:766,right:1114,xlim:[19.6,24.8],heat:heatNhM1,med:medNhM1,hi:hiNhM1,lo:loNhM1},
 {name:'gamma-stacked',row:1,col:0,left:56,right:400,xlim:[1.35,2.64],heat:heatGammaStacked,med:medGammaStacked,hi:hiGammaStacked,lo:loGammaStacked},
 {name:'gamma-ml',row:1,col:1,left:409,right:755,xlim:[1.3388,2.6376],heat:heatGammaMl,med:medGammaMl,hi:hiGammaMl,lo:loGammaMl},
 {name:'gamma-ml-m1',row:1,col:2,left:765,right:1114,xlim:[1.3428,2.6512],heat:heatGammaM1,med:medGammaM1,hi:hiGammaM1,lo:loGammaM1},
 {name:'lx-stacked',row:2,col:0,left:51.7,right:400,xlim:[41,46],heat:heatLxStacked,med:medLxStacked,hi:hiLxStacked,lo:loLxStacked},
 {name:'lx-ml',row:2,col:1,left:409,right:756.7,xlim:[41,46],heat:heatLxMl,med:medLxMl,hi:hiLxMl,lo:loLxMl},
 {name:'lx-ml-m1',row:2,col:2,left:766,right:1114,xlim:[41,46],heat:heatLxM1,med:medLxM1,hi:hiLxM1,lo:loLxM1}
];
function linePath(values,xf,yf,R){
  return values.map((v,i)=>(i?'L':'M')+xf(R.binX+(i+.5)*R.binW).toFixed(2)+' '+yf(v).toFixed(2)).join(' ');
}
panels.forEach(function(p,idx){
  const R=rows[p.row];
  const xf=v=>p.left+(v-p.xlim[0])/(p.xlim[1]-p.xlim[0])*(p.right-p.left);
  const yf=v=>R.bottom-(v-R.ylim[0])/(R.ylim[1]-R.ylim[0])*(R.bottom-R.top);
  const g=make('g',{});
  
  
  const defs=make('clipPath',{id:'clip'+idx},g);
  make('rect',{x:p.left,y:R.top,width:p.right-p.left,height:R.bottom-R.top},defs);
  const heat=make('g',{'clip-path':'url(#clip'+idx+')','shape-rendering':'crispEdges'},g);
  
  
  const fullCols=p.row===1?25:(p.row===0?29:30);
  const bx0=xf(R.binX),bx1=xf(R.binX+fullCols*R.binW);
  const by0=yf(R.binY+R.nRows*R.binH),by1=yf(R.binY);
  make('rect',{x:bx0,y:by0,width:bx1-bx0,height:by1-by0,fill:'#f7fbff'},heat);
  p.heat.forEach(function(cells,j){
    cells.forEach(function(level,i){
      if(!level){return;}
      const x0=xf(R.binX+i*R.binW),x1=xf(R.binX+(i+1)*R.binW);
      const y0=yf(R.binY+(R.nRows-j)*R.binH),y1=yf(R.binY+(R.nRows-j-1)*R.binH);
      const c=make('rect',{x:x0.toFixed(2),y:y0.toFixed(2),width:(x1-x0+.4).toFixed(2),height:(y1-y0+.4).toFixed(2),fill:blues(level)},heat);
      
      
    });
  });
  if(p.name==='gamma-ml'){
    const v=make('line',{x1:xf(1.4),x2:xf(1.4),y1:R.top,y2:R.bottom,stroke:'#b9b9b9','stroke-width':1,'stroke-dasharray':'3 2'},g);
    
    
  }
  const lines=make('g',R.clipLines?{'clip-path':'url(#clip'+idx+')'}:{},g);
  const med=make('path',{d:linePath(p.med,xf,yf,R),fill:'none',stroke:'#ff0000','stroke-width':2.3,'stroke-linejoin':'round'},lines);
  
  
  const hi=make('path',{d:linePath(p.hi,xf,yf,R),fill:'none',stroke:'#ffa500','stroke-width':2.2,'stroke-dasharray':'8 3.5'},lines);
  
  
  const lo=make('path',{d:linePath(p.lo,xf,yf,R),fill:'none',stroke:'#ffa500','stroke-width':2.2,'stroke-dasharray':'8 3.5'},lines);
  
  
  const refClip=make('g',{'clip-path':R.clipLines?'url(#clip'+idx+')':'none'},g);
  const a=Math.max(p.xlim[0],R.ylim[0]),b=Math.min(p.xlim[1],R.ylim[1]);
  const ref=make('line',{x1:xf(a),y1:yf(a),x2:xf(b),y2:yf(b),stroke:'#1f8a1f','stroke-width':2.2,'stroke-dasharray':'8 3.5'},refClip);
  
  
  const box=make('rect',{x:p.left,y:R.top,width:p.right-p.left,height:R.bottom-R.top,fill:'none',stroke:'#2a2a2a','stroke-width':1.3},g);
  
  
  R.ticks.forEach(function(t){
    const tx=make('line',{x1:xf(t),x2:xf(t),y1:R.bottom,y2:R.bottom+5,stroke:'#222','stroke-width':1.1},g);
    
    
    const lx=make('text',{class:'tick',x:xf(t),y:R.bottom+19.5,'text-anchor':'middle'},g);
    lx.textContent=t.toFixed(R.fmt);
    
    
    const ty=make('line',{x1:p.left-5,x2:p.left,y1:yf(t),y2:yf(t),stroke:'#222','stroke-width':1.1},g);
    
    
    if(p.col===0){
      const ly=make('text',{class:'tick',x:p.left-8,y:yf(t)+5.5,'text-anchor':'end'},g);
      ly.textContent=t.toFixed(R.fmt);
      
      
    }
  });
  if(p.col===0){
    const L=R.legendLeft[0],T=R.legendTop;
    const lg=make('g',{},g);
    
    
    make('rect',{x:L,y:T,width:134,height:70,rx:3,fill:'#fff','fill-opacity':.85,stroke:'#ccc','stroke-width':1},lg);
    const lm=make('line',{x1:L+5,x2:L+37.4,y1:T+12,y2:T+12,stroke:'#ff0000','stroke-width':2.3},lg);
    
    
    const tm=make('text',{class:'leg',x:L+48.4,y:T+17.5},lg);
    tm.textContent='median';
    
    
    const ls=make('line',{x1:L+5,x2:L+37.4,y1:T+33.5,y2:T+33.5,stroke:'#ffa500','stroke-width':2.2,'stroke-dasharray':'8 3.5'},lg);
    
    
    const ts=make('text',{class:'leg',x:L+48.4,y:T+39},lg);
    ts.textContent='1 ';
    
    
    const sig=make('tspan',{class:'math'},ts);
    sig.textContent='σ';
    const lr=make('line',{x1:L+5,x2:L+37.4,y1:T+56,y2:T+56,stroke:'#1f8a1f','stroke-width':2.2,'stroke-dasharray':'8 3.5'},lg);
    
    
    const tr=make('text',{class:'leg',x:L+48.4,y:T+61.5},lg);
    tr.textContent='reference';
    
    
  }
});
rows.forEach(function(R){
  const g=make('g',{});
  
  
  const bar=make('rect',{x:1125,y:R.top,width:18,height:R.bottom-R.top,fill:'url(#blues)',stroke:'#2a2a2a','stroke-width':1.2},g);
  
  
  const yb=v=>R.bottom-(v-R.bar.min)/(R.bar.max-R.bar.min)*(R.bottom-R.top);
  R.bar.ticks.forEach(function(t){
    const k=make('line',{x1:1143,x2:1148,y1:yb(t),y2:yb(t),stroke:'#222','stroke-width':1.1},g);
    
    
    const l=make('text',{class:'tick',x:1151,y:yb(t)+5.5},g);
    l.textContent=t.toFixed(R.bar.fmt);
    
    
  });
});
</script>
</body>
</html>
